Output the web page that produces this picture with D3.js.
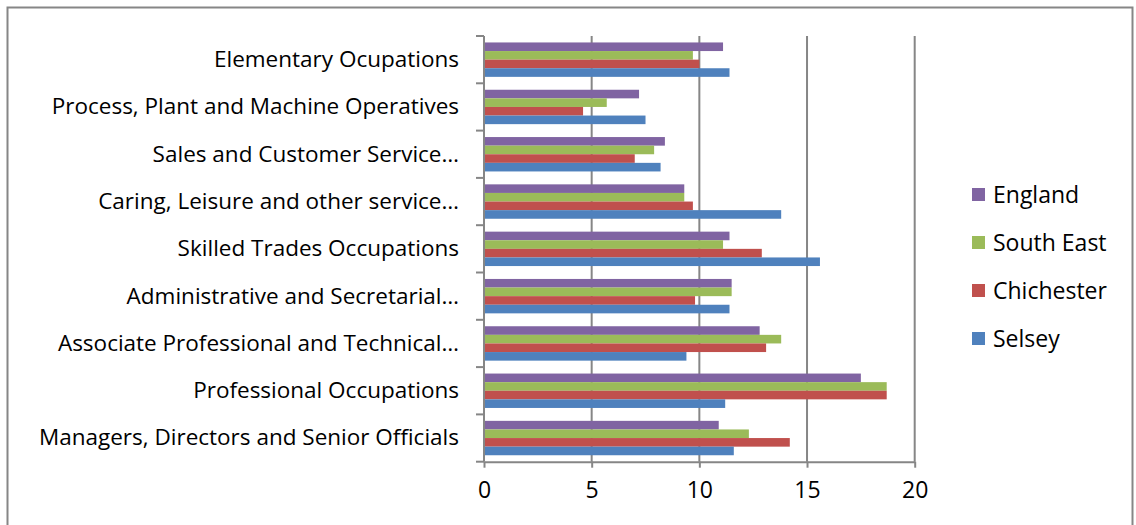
<!DOCTYPE html>
<html>
<head>
<meta charset="utf-8">
<script src="https://cdn.jsdelivr.net/npm/d3@7"></script>
<style>
  html, body { margin: 0; padding: 0; background: #fff; }
  svg { display: block; }
  text { font-family: "Open Sans", Lato, sans-serif; fill: #000; }
</style>
</head>
<body>
<svg id="chart" width="1136" height="525"></svg>
<script>
// Categories from top to bottom
const categories = [
  "Elementary Ocupations",
  "Process, Plant and Machine Operatives",
  "Sales and Customer Service…",
  "Caring, Leisure and other service…",
  "Skilled Trades Occupations",
  "Administrative and Secretarial…",
  "Associate Professional and Technical…",
  "Professional Occupations",
  "Managers, Directors and Senior Officials"
];
// Series drawn top-to-bottom within each group
const seriesNames = ["England", "South East", "Chichester", "Selsey"];
const seriesColors = ["#8064A2", "#9BBB59", "#C0504D", "#4F81BD"];
const england   = [11.1, 7.2, 8.4, 9.3, 11.4, 11.5, 12.8, 17.5, 10.9];
const southEast = [9.7, 5.7, 7.9, 9.3, 11.1, 11.5, 13.8, 18.7, 12.3];
const chichester= [10.0, 4.6, 7.0, 9.7, 12.9, 9.8, 13.1, 18.7, 14.2];
const selsey    = [11.4, 7.5, 8.2, 13.8, 15.6, 11.4, 9.4, 11.2, 11.6];
const xTicks = [0, 5, 10, 15, 20];

const seriesValues = [england, southEast, chichester, selsey];

const svg = d3.select("#chart");
const axisColor = "#868686";

// outer border
svg.append("rect")
  .attr("x", 7.5).attr("y", 7.5)
  .attr("width", 1125).attr("height", 530)
  .attr("fill", "none").attr("stroke", axisColor).attr("stroke-width", 2);

const plot = { left: 484, right: 914.7, top: 36, bottom: 461.7 };

const x = d3.scaleLinear().domain([0, 20]).range([plot.left, plot.right]);
const y = d3.scaleBand().domain(categories).range([plot.top, plot.bottom]).paddingInner(0).paddingOuter(0);
const gap = 1.5; // Excel gap width 150%
const barH = y.step() / (seriesNames.length + gap);
const y1 = d3.scaleBand().domain(seriesNames)
  .range([barH * gap / 2, barH * gap / 2 + barH * seriesNames.length]);

// gridlines
const g = svg.append("g");
g.selectAll("line.grid").data(xTicks.filter(d => d > 0)).join("line")
  .attr("x1", d => x(d)).attr("x2", d => x(d))
  .attr("y1", plot.top).attr("y2", plot.bottom)
  .attr("stroke", axisColor).attr("stroke-width", 2);

// bars
const groups = svg.append("g").selectAll("g").data(categories).join("g")
  .attr("transform", d => `translate(0,${y(d)})`);
groups.selectAll("rect").data((c, i) => seriesNames.map((s, k) => ({ s, k, v: seriesValues[k][i] })))
  .join("rect")
  .attr("x", x(0))
  .attr("y", d => y1(d.s))
  .attr("width", d => x(d.v) - x(0))
  .attr("height", y1.bandwidth())
  .attr("fill", d => seriesColors[d.k]);

// bottom axis
const xAxis = d3.axisBottom(x).tickValues(xTicks).tickSize(6).tickPadding(14).tickSizeOuter(0);
const xg = svg.append("g").attr("transform", `translate(0,${plot.bottom})`).call(xAxis);
xg.select(".domain").attr("stroke", axisColor).attr("stroke-width", 2);
xg.selectAll(".tick line").attr("stroke", axisColor).attr("stroke-width", 2);
xg.selectAll(".tick text").attr("font-size", 23).attr("font-family", "'Open Sans', sans-serif").attr("fill", "#000");

// left axis line + ticks at band boundaries
const boundaries = categories.map(c => y(c)).concat([plot.bottom]);
svg.append("line")
  .attr("x1", plot.left).attr("x2", plot.left)
  .attr("y1", plot.top).attr("y2", plot.bottom)
  .attr("stroke", axisColor).attr("stroke-width", 2);
svg.append("g").selectAll("line").data(boundaries).join("line")
  .attr("x1", plot.left - 8).attr("x2", plot.left)
  .attr("y1", d => d).attr("y2", d => d)
  .attr("stroke", axisColor).attr("stroke-width", 2);

// category labels
svg.append("g").selectAll("text").data(categories).join("text")
  .attr("x", 459)
  .attr("y", d => y(d) + y.bandwidth() / 2)
  .attr("dy", "0.33em")
  .attr("text-anchor", "end")
  .attr("font-size", 22.5)
  .text(d => d);

// legend
const legend = svg.append("g");
const legendY = [195, 243, 291, 339];
seriesNames.forEach((s, k) => {
  legend.append("rect")
    .attr("x", 972).attr("y", legendY[k] - 7)
    .attr("width", 13).attr("height", 13)
    .attr("fill", seriesColors[k]);
  legend.append("text")
    .attr("x", 993).attr("y", legendY[k])
    .attr("dy", "0.35em")
    .attr("font-size", 23)
    .text(s);
});
</script>
</body>
</html>
